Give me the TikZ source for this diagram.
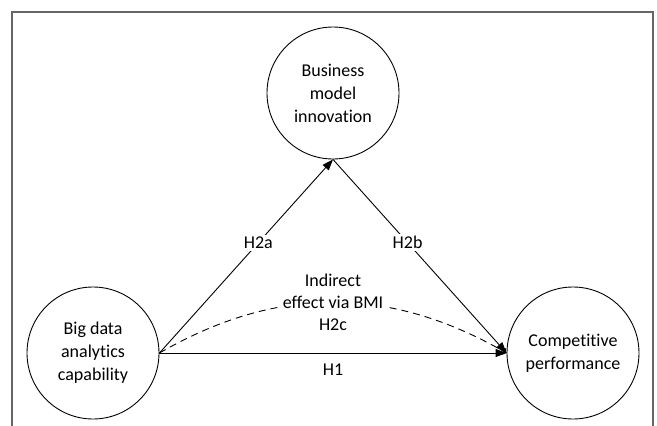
\documentclass[tikz,border=0pt]{standalone}
\usepackage{fontspec}
\setmainfont{Carlito}[Ligatures=NoCommon]
\usetikzlibrary{positioning, arrows.meta}

\begin{document}
\begin{tikzpicture}[x=1pt,y=-1pt,node distance=260pt and 240pt,on grid,
    line width=0.9pt,
    construct/.style={circle,draw,minimum size=132pt,inner sep=0pt,align=center,
      font=\fontsize{18}{23}\selectfont},
    hyp/.style={-{Triangle[length=11pt,width=8pt]}},
    lbl/.style={fill=white,inner sep=2pt,font=\fontsize{18}{22}\selectfont}]
  \useasboundingbox (0,0) rectangle (657,426);
  % frame
  \draw[black!60,line width=1.5pt] (12,426) -- (12,12) -- (653,12) -- (653,426);

  \node[construct] (bmi) at (333,93) {Business\\model\\innovation};
  \node[construct] (bdac) [below left=of bmi] {Big data\\analytics\\capability};
  \node[construct] (cp) [below right=of bmi] {Competitive\\performance};

  \path[hyp]
    (bdac.east) edge node[lbl,pos=0.57] {H2a} (bmi.south)
    (bmi.south) edge node[lbl,pos=0.43] {H2b} (cp.west)
    (bdac.east) edge node[lbl,below=8pt,fill=none] {H1} (cp.west);
  \draw[dash pattern=on 7pt off 5pt,->] (bdac.east) to[bend left=30]
    node[lbl,align=center] {Indirect\\effect via BMI\\H2c} (cp.west);
\end{tikzpicture}
\end{document}
